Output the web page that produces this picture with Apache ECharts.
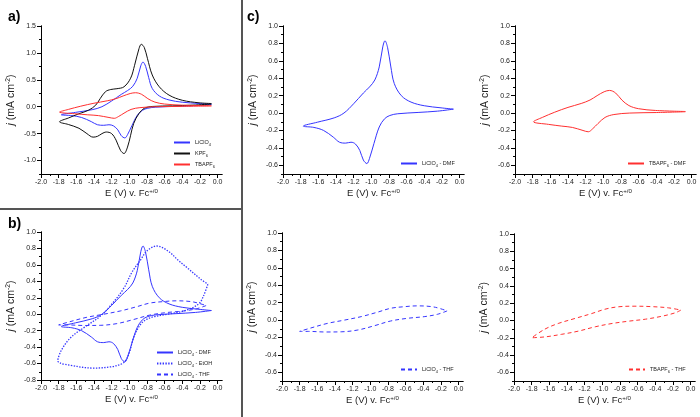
<!DOCTYPE html>
<html>
<head>
<meta charset="utf-8">
<script src="https://cdn.jsdelivr.net/npm/echarts@6/dist/echarts.min.js"></script>
<style>
html,body{margin:0;padding:0;background:#fff;}
#chart{width:700px;height:417px;}
</style>
</head>
<body>
<div id="chart"></div>
<script>
"use strict";

// tick values
const xMajor = [-2.0,-1.8,-1.6,-1.4,-1.2,-1.0,-0.8,-0.6,-0.4,-0.2,0.0];
const xMinor = [-1.9,-1.7,-1.5,-1.3,-1.1,-0.9,-0.7,-0.5,-0.3,-0.1];
const yMajorA = [-1.0,-0.5,0.0,0.5,1.0,1.5];
const yMinorA = [-1.25,-0.75,-0.25,0.25,0.75,1.25];
const yMajorB = [-0.8,-0.6,-0.4,-0.2,0.0,0.2,0.4,0.6,0.8,1.0];
const yMinorB = [-0.7,-0.5,-0.3,-0.1,0.1,0.3,0.5,0.7,0.9];
const yMajorC = [-0.6,-0.4,-0.2,0.0,0.2,0.4,0.6,0.8,1.0];
const yMinorC = [-0.7,-0.5,-0.3,-0.1,0.1,0.3,0.5,0.7,0.9];

// LiClO4 - DMF
const liDmfE = [-0.07,-0.25,-0.47,-0.70,-0.79,-0.85,-0.91,-0.97,-1.02,-1.05,-1.09,-1.13,-1.18,-1.23,-1.29,-1.36,-1.43,-1.54,-1.65,-1.77,
  -1.61,-1.42,-1.31,-1.20,-1.09,-1.02,-0.96,-0.91,-0.87,-0.845,-0.815,-0.78,-0.74,-0.66,-0.55,-0.40,-0.21,-0.07];
const liDmfJ = [0.045,0.022,0.007,-0.008,-0.028,-0.066,-0.16,-0.35,-0.52,-0.58,-0.54,-0.43,-0.355,-0.335,-0.345,-0.335,-0.277,-0.20,-0.165,-0.15,
  -0.105,-0.055,0.0,0.107,0.23,0.30,0.38,0.53,0.76,0.83,0.75,0.54,0.34,0.20,0.126,0.084,0.06,0.045];

// KPF6 - DMF
const kDmfE = [-0.07,-0.28,-0.51,-0.74,-0.83,-0.89,-0.95,-0.985,-1.02,-1.06,-1.10,-1.15,-1.20,-1.26,-1.31,-1.36,-1.41,-1.48,-1.57,-1.69,-1.79,
  -1.69,-1.57,-1.46,-1.38,-1.33,-1.27,-1.21,-1.14,-1.06,-0.985,-0.94,-0.89,-0.864,-0.83,-0.795,-0.74,-0.66,-0.55,-0.40,-0.21,-0.07];
const kDmfJ = [0.05,0.03,0.016,0.005,-0.03,-0.125,-0.31,-0.53,-0.75,-0.87,-0.81,-0.62,-0.50,-0.47,-0.50,-0.55,-0.565,-0.50,-0.40,-0.33,-0.28,
  -0.21,-0.13,-0.064,0.03,0.15,0.28,0.32,0.335,0.37,0.53,0.77,1.08,1.16,1.10,0.90,0.59,0.37,0.216,0.12,0.073,0.06];

// TBAPF6 - DMF
const tbaDmfE = [-0.07,-0.40,-0.70,-0.88,-0.98,-1.06,-1.12,-1.17,-1.23,-1.35,-1.47,-1.62,-1.79,
  -1.69,-1.55,-1.40,-1.25,-1.15,-1.07,-0.99,-0.93,-0.86,-0.79,-0.71,-0.60,-0.41,-0.07];
const tbaDmfJ = [0.015,0.006,0.0,-0.017,-0.05,-0.12,-0.18,-0.215,-0.20,-0.165,-0.15,-0.13,-0.10,
  -0.05,0.01,0.065,0.11,0.15,0.20,0.245,0.26,0.23,0.15,0.086,0.05,0.03,0.018];

// LiClO4 - EtOH
const liEtohE = [-0.11,-0.16,-0.21,-0.35,-0.57,-0.72,-0.80,-0.87,-0.95,-1.00,-1.05,-1.10,-1.21,-1.40,-1.59,-1.81,
  -1.77,-1.66,-1.51,-1.32,-1.17,-1.06,-0.97,-0.87,-0.80,-0.69,-0.55,-0.45,-0.35,-0.195,-0.11];
const liEtohJ = [0.365,0.22,0.13,0.05,0.0,-0.03,-0.06,-0.12,-0.28,-0.47,-0.575,-0.61,-0.64,-0.655,-0.635,-0.565,
  -0.44,-0.28,-0.16,-0.016,0.16,0.32,0.51,0.665,0.77,0.83,0.76,0.66,0.57,0.43,0.365];

// LiClO4 - THF
const liThfE = [-0.13,-0.24,-0.39,-0.58,-0.77,-0.95,-1.14,-1.33,-1.51,-1.70,-1.80,
  -1.66,-1.48,-1.29,-1.10,-0.92,-0.77,-0.62,-0.47,-0.28,-0.13];
const liThfJ = [0.105,0.066,0.039,0.02,-0.011,-0.064,-0.114,-0.135,-0.137,-0.13,-0.13,
  -0.087,-0.037,0.0,0.04,0.09,0.135,0.153,0.163,0.15,0.105];

// TBAPF6 - THF
const tbaThfE = [-0.11,-0.17,-0.32,-0.51,-0.70,-0.89,-1.08,-1.27,-1.46,-1.65,-1.80,
  -1.65,-1.50,-1.31,-1.12,-0.97,-0.82,-0.63,-0.44,-0.25,-0.11];
const tbaThfJ = [0.12,0.09,0.05,0.015,-0.008,-0.035,-0.073,-0.123,-0.16,-0.19,-0.20,
  -0.10,-0.035,0.023,0.08,0.13,0.158,0.165,0.16,0.146,0.12];

const blue = "#3535ff";
const red = "#ff3030";
const black = "#111111";
const font = "Liberation Sans, Arial, sans-serif";
const dotted = [1.4,1.4];
const dashed = [4,3];

function pairs(xs, ys){
	return xs.map((x,i)=>[x, ys[i]]);
}
function subFmt(name){
	return name.replace(/([A-Za-z])(\d)/g, "$1{sub|$2}");
}

const panels = [
	{box:[41,26,181,148], y:[-1.25,1.5], yMajor:yMajorA, yMinor:yMinorA, leg:[173,138],
		curves:[
			{name:"LiClO4", e:liDmfE, j:liDmfJ, color:blue, type:"solid"},
			{name:"KPF6", e:kDmfE, j:kDmfJ, color:black, type:"solid"},
			{name:"TBAPF6", e:tbaDmfE, j:tbaDmfJ, color:red, type:"solid"}
		]},
	{box:[41,232,181,148], y:[-0.8,1.0], yMajor:yMajorB, yMinor:yMinorB, leg:[156,348],
		curves:[
			{name:"LiClO4 - DMF", e:liDmfE, j:liDmfJ, color:blue, type:"solid"},
			{name:"LiClO4 - EtOH", e:liEtohE, j:liEtohJ, color:blue, type:dotted, width:1.3},
			{name:"LiClO4 - THF", e:liThfE, j:liThfJ, color:blue, type:dashed}
		]},
	{box:[283,26,181,148], y:[-0.7,1.0], yMajor:yMajorC, yMinor:yMinorC, leg:[400,159],
		curves:[{name:"LiClO4 - DMF", e:liDmfE, j:liDmfJ, color:blue, type:"solid"}]},
	{box:[515,26,181,148], y:[-0.7,1.0], yMajor:yMajorC, yMinor:yMinorC, leg:[627,159],
		curves:[{name:"TBAPF6 - DMF", e:tbaDmfE, j:tbaDmfJ, color:red, type:"solid"}]},
	{box:[282,233,181,148], y:[-0.7,1.0], yMajor:yMajorC, yMinor:yMinorC, leg:[400,365],
		curves:[{name:"LiClO4 - THF", e:liThfE, j:liThfJ, color:blue, type:dashed}]},
	{box:[514,234,181,147], y:[-0.7,1.0], yMajor:yMajorC, yMinor:yMinorC, leg:[628,365],
		curves:[{name:"TBAPF6 - THF", e:tbaThfE, j:tbaThfJ, color:red, type:dashed}]}
];

const grid = [], xAxis = [], yAxis = [], series = [], legend = [];
const tickLabel = {fontSize:7, color:"#222", fontFamily:font};
function nameStyle(size){
	return {
		fontSize:size, color:"#222", fontFamily:font, lineHeight:size + 2,
		rich:{
			i:{fontStyle:"italic", fontSize:size, fontFamily:font, color:"#222", lineHeight:size + 2},
			s:{fontSize:size * 0.65, fontFamily:font, color:"#222", lineHeight:size + 2, verticalAlign:"top"}
		}
	};
}

panels.forEach((p,i)=>{
	grid.push({left:p.box[0], top:p.box[1], width:p.box[2], height:p.box[3]});
	xAxis.push({
		type:"value", gridIndex:i, position:"bottom", min:-2.0, max:0.05,
		axisLine:{show:true, onZero:false, lineStyle:{color:"#000", width:1}},
		axisTick:{show:true, customValues:xMajor, length:4, lineStyle:{color:"#000"}},
		axisLabel:Object.assign({customValues:xMajor, margin:5, formatter:v=>v.toFixed(1)}, tickLabel),
		splitLine:{show:false},
		name:"E (V) v. Fc{s|+/0}", nameLocation:"middle", nameGap:14, nameTextStyle:nameStyle(9.5)
	});
	xAxis.push({
		type:"value", gridIndex:i, position:"bottom", min:-2.0, max:0.05,
		axisLine:{show:true, onZero:false, lineStyle:{color:"#000", width:1}},
		axisTick:{show:true, customValues:xMinor, length:2, lineStyle:{color:"#000"}},
		axisLabel:{show:false}, splitLine:{show:false}
	});
	yAxis.push({
		type:"value", gridIndex:i, position:"left", min:p.y[0], max:p.y[1],
		axisLine:{show:true, onZero:false, lineStyle:{color:"#000", width:1}},
		axisTick:{show:true, customValues:p.yMajor, length:4, lineStyle:{color:"#000"}},
		axisLabel:Object.assign({customValues:p.yMajor, margin:5, formatter:v=>v.toFixed(1)}, tickLabel),
		splitLine:{show:false},
		name:"{i|j} (mA cm{s|-2})", nameLocation:"middle", nameGap:24, nameTextStyle:nameStyle(10.5)
	});
	yAxis.push({
		type:"value", gridIndex:i, position:"left", min:p.y[0], max:p.y[1],
		axisLine:{show:true, onZero:false, lineStyle:{color:"#000", width:1}},
		axisTick:{show:true, customValues:p.yMinor, length:2, lineStyle:{color:"#000"}},
		axisLabel:{show:false}, splitLine:{show:false}
	});
	p.curves.forEach(c=>{
		series.push({
			type:"line", name:c.name, xAxisIndex:2*i, yAxisIndex:2*i,
			data:pairs(c.e, c.j), symbol:"none", showSymbol:false, smooth:0.35,
			lineStyle:{color:c.color, width:c.width || 1, type:c.type}, itemStyle:{color:c.color}
		});
	});
	legend.push({
		left:p.leg[0], top:p.leg[1], orient:"vertical", padding:0,
		itemWidth:16, itemHeight:8, itemGap:2, selectedMode:false,
		itemStyle:{opacity:0},
		data:p.curves.map(c=>c.name), formatter:subFmt,
		textStyle:{fontSize:5.5, color:"#222", fontFamily:font, lineHeight:9,
			rich:{sub:{fontSize:4, fontFamily:font, color:"#222", lineHeight:9, verticalAlign:"bottom"}}}
	});
});

const myChart = echarts.init(document.getElementById("chart"), null, {renderer:"canvas"});
myChart.setOption({
	backgroundColor:"#fff",
	animation:false,
	grid, xAxis, yAxis, series, legend,
	graphic:[
		{type:"line", shape:{x1:0, y1:209, x2:242, y2:209}, style:{stroke:"#555", lineWidth:2}},
		{type:"line", shape:{x1:242, y1:0, x2:242, y2:417}, style:{stroke:"#555", lineWidth:2}},
		{type:"text", left:8, top:10, style:{text:"a)", font:"bold 14px " + font, fill:"#000"}},
		{type:"text", left:8, top:217, style:{text:"b)", font:"bold 14px " + font, fill:"#000"}},
		{type:"text", left:247, top:10, style:{text:"c)", font:"bold 14px " + font, fill:"#000"}}
	]
});
</script>
</body>
</html>
